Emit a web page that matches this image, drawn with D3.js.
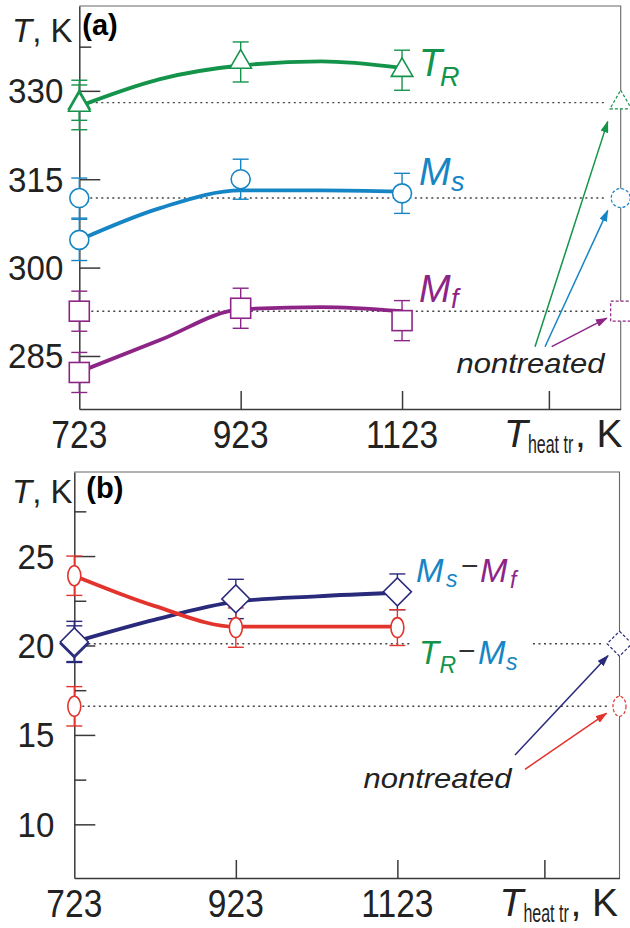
<!DOCTYPE html>
<html>
<head>
<meta charset="utf-8">
<script src="https://cdn.jsdelivr.net/npm/d3@7"></script>
<style>
  html, body { margin: 0; padding: 0; background: #fff; }
  svg { display: block; font-family: "Liberation Sans", Arial, Helvetica, sans-serif; }
</style>
</head>
<body>
<svg id="chart" width="630" height="928"></svg>
<script>
// heat treatment temperature, K
const heatTemps = [723, 923, 1123];
const fitTemps = [723, 823, 923, 1023, 1123];
const xTickLabels = ["723", "923", "1123"];

// panel (a): characteristic temperatures, K
const trVals = [327.6, 334.9, 333.5];
const trErr = [4.2, 3.4, 3.4];
const trFit = [327.4, 332.0, 334.3, 335.0, 333.9];
const msVals = [304.7, 315.0, 312.6];
const msErr = [3.5, 3.4, 3.4];
const msFit = [304.7, 310.1, 313.1, 313.1, 312.9];
const mfVals = [282.2, 293.1, 291.0];
const mfErr = [3.4, 3.4, 3.4];
const mfFit = [282.3, 287.7, 292.9, 293.3, 292.6];
// nontreated state [value, error]
const trNon = [328.0, 3.0];
const msNon = [311.8, 3.4];
const mfNon = [292.6, 3.4];
const ticksA = [285, 300, 315, 330];
const minorA = [337.5];

// panel (b): temperature intervals, K
const msMfVals = [20.2, 22.6, 23.0];
const msMfErr = [1.15, 1.1, 1.0];
const msMfFit = [20.2, 21.45, 22.45, 22.75, 22.95];
const trMsVals = [23.9, 21.0, 21.0];
const trMsErr = [1.1, 1.1, 1.0];
const trMsFit = [23.9, 22.2, 21.05, 21.05, 21.05];
const msMfNon = [20.1, 1.0];
const trMsNon = [16.6, 1.1];
const ticksB = [10, 15, 20, 25];
const minorB = [12.5, 17.5, 22.5, 27.5];

const C = {
    green: "#13944a", blue: "#1685c5", purple: "#8c2586",
    red: "#e2342c", navy: "#2a2a7c", ink: "#222", axis: "#3a3a3a"
};

const svg = d3.select("#chart");
svg.append("rect").attr("width", 630).attr("height", 928).attr("fill", "#fff");
const defs = svg.append("defs");

function arrowMarker(id, color) {
    defs.append("marker").attr("id", id)
        .attr("viewBox", "0 0 10 10").attr("refX", 9).attr("refY", 5)
        .attr("markerWidth", 12).attr("markerHeight", 8)
        .attr("markerUnits", "userSpaceOnUse").attr("orient", "auto")
        .attr("preserveAspectRatio", "none")
        .append("path").attr("d", "M0,0L10,5L0,10z").attr("fill", color);
}

// narrow text like the original figure
function narrowText(g, x, y, str, size, anchor, sx) {
    return g.append("text")
        .attr("transform", `translate(${x},${y}) scale(${sx},1)`)
        .attr("text-anchor", anchor)
        .attr("font-size", size).attr("fill", C.ink)
        .text(str);
}

function shape(g, kind, cx, cy, color, dashed) {
    const s = g.append("g").attr("transform", `translate(${cx},${cy})`)
        .attr("fill", "#fff").attr("stroke", color)
        .attr("stroke-width", dashed ? 1.2 : 1.6)
        .attr("stroke-dasharray", dashed ? "3,2" : null);
    if (kind === "tri") s.append("path").attr("d", d3.symbol(d3.symbolTriangle, 200)());
    else if (kind === "circle") s.append("circle").attr("r", 9.5);
    else if (kind === "square") s.append("rect").attr("x", -10).attr("y", -10).attr("width", 20).attr("height", 20);
    else if (kind === "diamond") {
        const h = dashed ? 8.8 : 9.9;
        s.append("rect").attr("x", -h).attr("y", -h).attr("width", 2 * h).attr("height", 2 * h).attr("transform", "rotate(45)");
    }
    else if (kind === "ellipse") s.append("ellipse").attr("rx", 6.5).attr("ry", 10);
}

function errBar(g, px, y, v, e, color) {
    const y1 = y(v + e), y2 = y(v - e);
    g.append("line").attr("x1", px).attr("x2", px).attr("y1", y1).attr("y2", y2);
    g.append("line").attr("x1", px - 8).attr("x2", px + 8).attr("y1", y1).attr("y2", y1);
    g.append("line").attr("x1", px - 8).attr("x2", px + 8).attr("y1", y2).attr("y2", y2);
    g.attr("stroke", color).attr("stroke-width", 1.4);
}

function drawPanel(cfg) {
    const g = svg.append("g");
    const x = cfg.x, y = cfg.y;
    const [x0, x1] = x.range();
    const [y0, y1] = y.range();
    const xNon = x.domain()[1];

    // frame (top and right)
    g.append("path").attr("d", `M${x0},${y1}H${x1}V${y0}`)
        .attr("fill", "none").attr("stroke", "#666").attr("stroke-width", 1.1);

    // axes with inward ticks
    const ax = g.append("g");
    ax.append("g").attr("transform", `translate(${x0},0)`)
        .call(d3.axisLeft(y).tickValues(cfg.major).tickSize(-21).tickSizeOuter(0).tickFormat(""));
    ax.append("g").attr("transform", `translate(${x0},0)`)
        .call(d3.axisLeft(y).tickValues(cfg.minor).tickSize(-12).tickSizeOuter(0).tickFormat(""))
        .call(a => a.select(".domain").remove());
    ax.append("g").attr("transform", `translate(0,${y0})`)
        .call(d3.axisBottom(x).tickValues([923, 1123, 1305]).tickSize(-18).tickSizeOuter(0).tickFormat(""));
    ax.selectAll(".domain, .tick line").attr("stroke", C.axis).attr("stroke-width", 1.5);

    // tick labels
    cfg.major.forEach(v => narrowText(g, x0 - cfg.labPad, y(v) + 12.5, String(v), 36, "end", 0.92));
    heatTemps.forEach((t, i) => narrowText(g, x(t), y0 + 39, xTickLabels[i], 39, "middle", 0.86));

    // x axis title
    g.append("text").attr("x", x(1305) - 45).attr("y", y0 + 38).attr("font-size", 39)
        .attr("font-style", "italic").attr("fill", C.ink).text("T");
    narrowText(g, x(1305) - 21, y0 + 44, "heat tr", 25, "start", 0.64);
    g.append("text").attr("x", x(1305) + 26).attr("y", y0 + 38).attr("font-size", 39)
        .attr("fill", C.ink).text(", K");

    // y axis title and panel tag
    const yt = g.append("text").attr("x", 12).attr("y", y1 + cfg.titleDy).attr("font-size", 33).attr("fill", C.ink);
    yt.append("tspan").attr("font-style", "italic").text("T");
    yt.append("tspan").text(", K");
    g.append("text").attr("x", x0 + cfg.tagDx).attr("y", y1 + cfg.tagDy).attr("font-size", 29)
        .attr("font-weight", "bold").attr("fill", "#000").text(cfg.tag);

    // dotted reference lines for nontreated state
    cfg.series.forEach(s => {
        const yy = y(s.non[0]);
        const segs = s.gap ? [[x0 + s.half, s.gap[0]], [s.gap[1], x1 - s.half - 3]] : [[x0 + s.half, x1 - s.half - 3]];
        segs.forEach(([a, b]) => g.append("line").attr("x1", a).attr("x2", b).attr("y1", yy).attr("y2", yy)
            .attr("stroke", "#444").attr("stroke-width", 1.4).attr("stroke-dasharray", "2,3.5"));
    });

    // fitted curves
    const line = d3.line().x((d, i) => x(fitTemps[i])).y(d => y(d)).curve(d3.curveMonotoneX);
    cfg.series.forEach(s => {
        g.append("path").attr("d", line(s.fit)).attr("fill", "none")
            .attr("stroke", s.color).attr("stroke-width", 3.8).attr("stroke-linecap", "round");
    });

    // error bars and markers
    cfg.series.forEach(s => {
        errBar(g.append("g"), x(723), y, s.non[0], s.non[1], s.color);
        s.vals.forEach((v, i) => errBar(g.append("g"), x(heatTemps[i]), y, v, s.err[i], s.color));
    });
    cfg.series.forEach(s => {
        shape(g, s.kind, x(723), y(s.non[0]), s.color, false);
        s.vals.forEach((v, i) => shape(g, s.kind, x(heatTemps[i]), y(v), s.color, false));
        shape(g, s.kind, x(xNon), y(s.non[0]), s.color, true);
    });

    // "nontreated" note with arrows
    g.append("text").attr("x", cfg.note[0]).attr("y", cfg.note[1]).attr("font-size", 28)
        .attr("font-style", "italic").attr("textLength", 148).attr("lengthAdjust", "spacingAndGlyphs")
        .attr("fill", C.ink).text("nontreated");
    cfg.series.forEach(s => {
        arrowMarker("arr-" + s.id, s.color);
        g.append("line").attr("x1", s.from[0]).attr("y1", s.from[1])
            .attr("x2", x(xNon) + s.head[0]).attr("y2", y(s.non[0]) + s.head[1])
            .attr("stroke", s.color).attr("stroke-width", 1.5)
            .attr("marker-end", `url(#arr-${s.id})`);
    });

    return g;
}

function subLabel(g, parts) {
    parts.forEach(p => g.append("text").attr("x", p.x).attr("y", p.y).attr("font-size", p.size)
        .attr("font-style", p.plain ? null : "italic").attr("fill", p.color).text(p.t));
}

// ---- panel (a)
const xA = d3.scaleLinear().domain([723, 1394]).range([79.3, 620.7]);
const yA = d3.scaleLinear().domain([276, 344.4]).range([409, 6]);
const gA = drawPanel({
    x: xA, y: yA, major: ticksA, minor: minorA, labPad: 16,
    tag: "(a)", tagDx: 3, tagDy: 29, titleDy: 35.5,
    note: [456.5, 373],
    series: [
        { id: "tr", kind: "tri", color: C.green, vals: trVals, err: trErr, fit: trFit, non: trNon, half: 11, from: [535, 346.7], head: [-13, 19] },
        { id: "ms", kind: "circle", color: C.blue, vals: msVals, err: msErr, fit: msFit, non: msNon, half: 11, from: [545, 346.7], head: [-13, 12.5] },
        { id: "mf", kind: "square", color: C.purple, vals: mfVals, err: mfErr, fit: mfFit, non: mfNon, half: 12, from: [551.7, 346.7], head: [-14, 7] }
    ]
});
subLabel(gA, [
    { t: "T", x: 419, y: 75.5, size: 38, color: C.green },
    { t: "R", x: 440, y: 86, size: 27, color: C.green },
    { t: "M", x: 419, y: 185, size: 38, color: C.blue },
    { t: "s", x: 451, y: 190.5, size: 27, color: C.blue },
    { t: "M", x: 419, y: 302, size: 38, color: C.purple },
    { t: "f", x: 451, y: 307.5, size: 27, color: C.purple }
]);

// ---- panel (b)
const xB = d3.scaleLinear().domain([723, 1398]).range([74.3, 619.5]);
const yB = d3.scaleLinear().domain([7, 29.7]).range([878, 472]);
const gB = drawPanel({
    x: xB, y: yB, major: ticksB, minor: minorB, labPad: 20,
    tag: "(b)", tagDx: 12, tagDy: 26, titleDy: 31,
    note: [363.5, 788.3],
    series: [
        { id: "msmf", kind: "diamond", color: C.navy, vals: msMfVals, err: msMfErr, fit: msMfFit, non: msMfNon, half: 14, gap: [410, 533], from: [515, 755], head: [-11.5, 12] },
        { id: "trms", kind: "ellipse", color: C.red, vals: trMsVals, err: trMsErr, fit: trMsFit, non: trMsNon, half: 8, from: [525, 769.3], head: [-13, 7] }
    ]
});
subLabel(gB, [
    { t: "M", x: 416, y: 581.5, size: 33, color: C.blue },
    { t: "s", x: 446, y: 586.5, size: 23, color: C.blue },
    { t: "\u2212", x: 461, y: 576, size: 30, color: "#333", plain: true },
    { t: "M", x: 480, y: 581.5, size: 33, color: C.purple },
    { t: "f", x: 510, y: 588, size: 23, color: C.purple },
    { t: "T", x: 419, y: 663.5, size: 33, color: C.green },
    { t: "R", x: 439.5, y: 673, size: 23, color: C.green },
    { t: "\u2212", x: 458, y: 661, size: 30, color: "#333", plain: true },
    { t: "M", x: 478, y: 664, size: 33, color: C.blue },
    { t: "s", x: 506, y: 670, size: 23, color: C.blue }
]);
</script>
</body>
</html>
